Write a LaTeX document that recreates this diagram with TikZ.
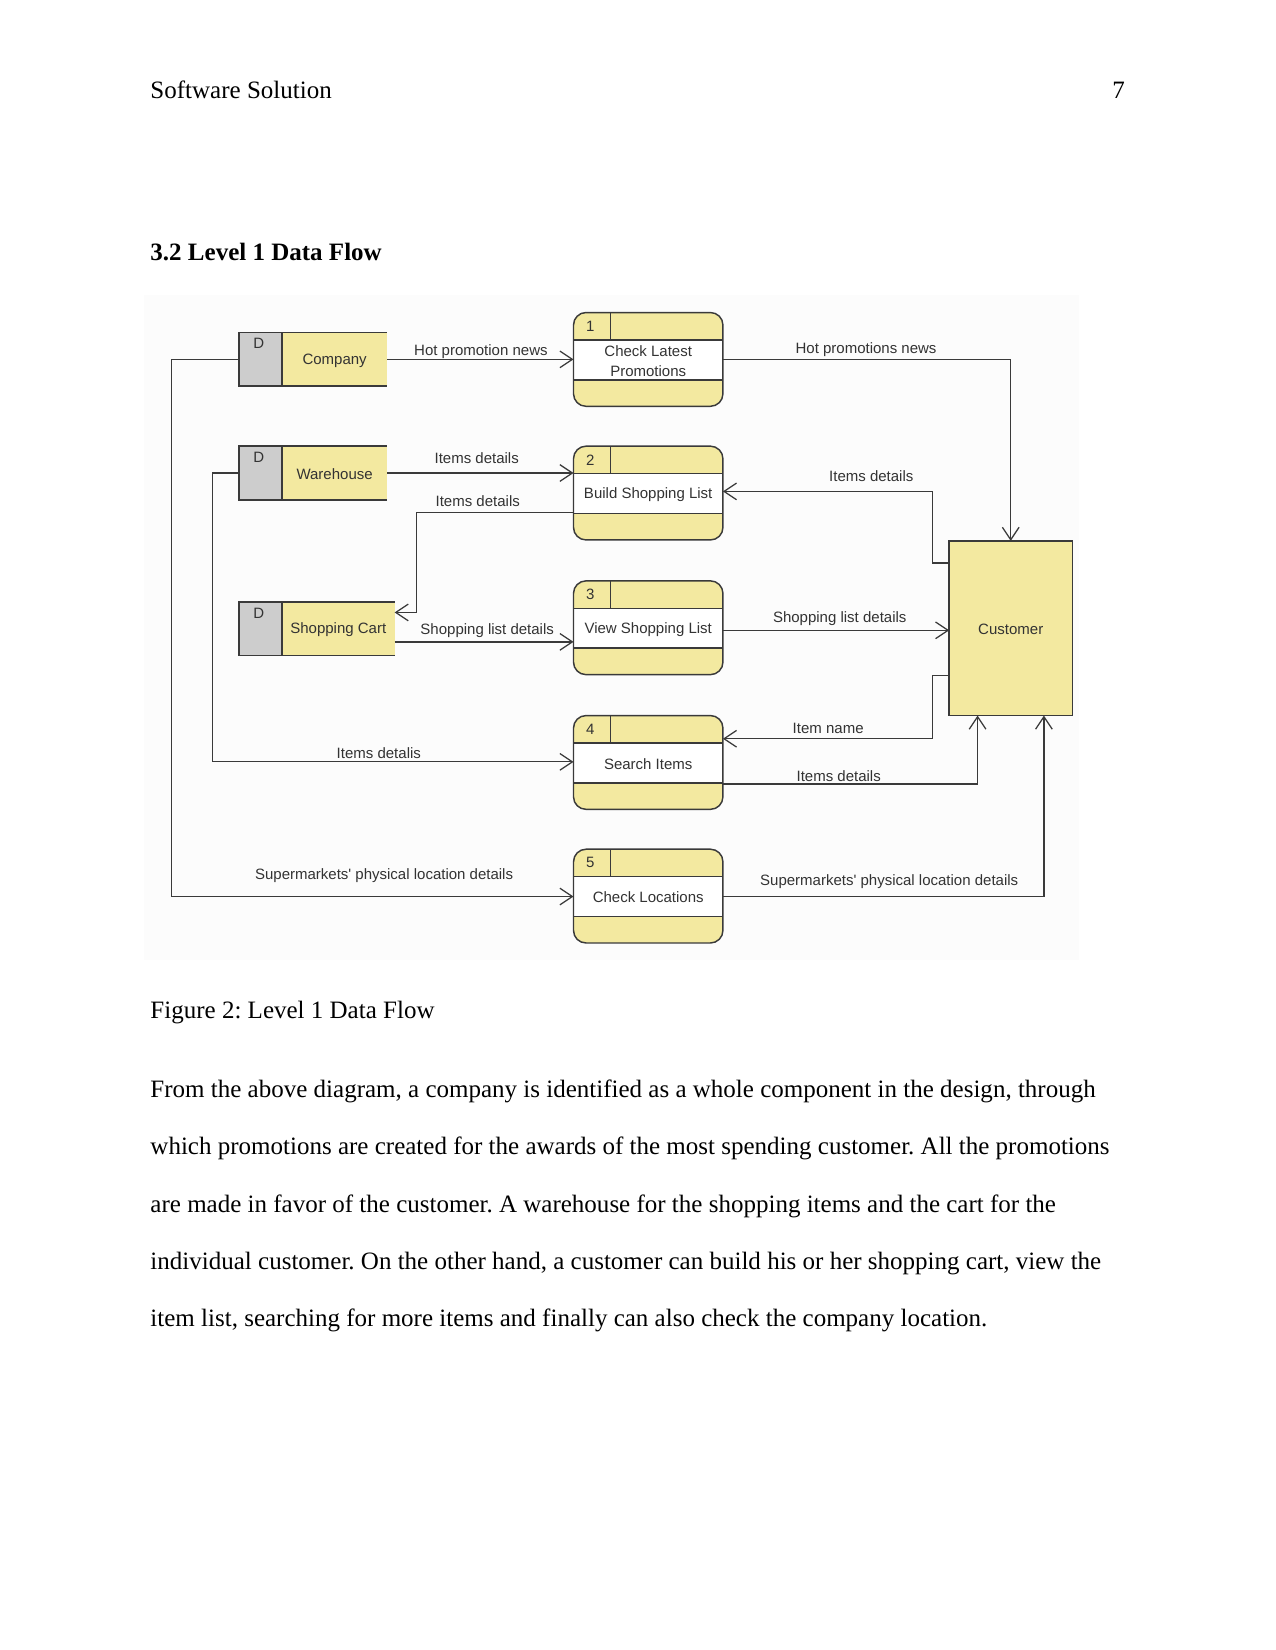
\documentclass[tikz,border=0pt]{standalone}
\usepackage{fontspec}
\setmainfont{Liberation Serif}
\newfontfamily\dfdfont{Liberation Sans}
\usetikzlibrary{arrows.meta,calc}
\definecolor{dfdyellow}{HTML}{F3E9A0}
\definecolor{dfdgray}{HTML}{CDCDCD}
\definecolor{dfdline}{HTML}{3A3A3A}
\definecolor{dfdtext}{HTML}{333333}
\definecolor{dfdbg}{HTML}{FCFCFC}

\newcommand\dfdproc[5]{% name, cx, top, number, text
  \node[fill=dfdyellow, rounded corners=6pt, minimum width=71.7pt, minimum height=45pt, anchor=north] (#1) at (#2,#3) {};
  \fill[white] (#2-71,#3+26) rectangle (#2+71,#3+64);
  \draw[border] (#2-71,#3+26) -- (#2+71,#3+26) (#2-71,#3+64) -- (#2+71,#3+64) (#2-36,#3) -- (#2-36,#3+26);
  \draw[border, rounded corners=6pt] (#1.north west) rectangle (#1.south east);
  \node[boxtxt] at (#2-55,#3+13) {#4};
  \node[boxtxt] at (#2,#3+46) {#5};
}
\newcommand\dfdstore[5]{% name, left, top, right, text
  \node[minimum width={(#4-#2)*0.50495pt}, minimum height={51*0.50495pt}] (#1) at ({(#2+#4)/2},#3+25.5) {};
  \fill[dfdyellow] (#2+41,#3) rectangle (#4,#3+51);
  \draw[border] (#2,#3) -- (#4,#3) (#2,#3+51) -- (#4,#3+51);
  \draw[border, fill=dfdgray] (#2,#3) rectangle (#2+41,#3+51);
  \node[boxtxt] at (#2+19,#3+10.5) {D};
  \node[boxtxt] at ({(#2+41+#4)/2},#3+26.5) {#5};
}

\begin{document}
\frenchspacing
\begin{tikzpicture}[x=0.50495pt,y=-0.50495pt,
  every node/.style={inner sep=0pt, outer sep=0pt},
  flow/.style={draw=dfdline, line width=0.6pt, -{Straight Barb[length=6pt,width=8pt,line width=0.6pt]}},
  border/.style={draw=dfdline, line width=0.7pt},
  lbl/.style={font=\dfdfont\fontsize{7.2}{8.6}\selectfont, text=dfdtext},
  boxtxt/.style={font=\dfdfont\fontsize{7.2}{9.6}\selectfont, text=dfdtext, align=center},
  body/.style={font=\fontsize{12}{14}\selectfont, anchor=base west},
]
\useasboundingbox (0,0) rectangle (1212,1568);
\fill[white] (0,0) rectangle (1212,1568);

% page text
\node[body] (hdr) at (143,94) {Software Solution};
\node[body, anchor=base east] (pg) at (1069,94) {7};
\node[body, font=\bfseries\fontsize{12}{14}\selectfont] (sec) at (143,248) {3.2 Level 1 Data Flow};

% diagram background
\fill[dfdbg] (137,280) rectangle (1025,912);

% processes
\dfdproc{p1}{616}{297}{1}{Check Latest\\Promotions}
\dfdproc{p2}{616}{424}{2}{Build Shopping List}
\dfdproc{p3}{616}{552}{3}{View Shopping List}
\dfdproc{p4}{616}{680}{4}{Search Items}
\dfdproc{p5}{616}{807}{5}{Check Locations}

% stores
\dfdstore{company}{227}{316}{368}{Company}
\dfdstore{warehouse}{227}{424}{368}{Warehouse}
\dfdstore{cart}{227}{572}{375}{Shopping Cart}

% external entity
\node[border, fill=dfdyellow, minimum width={117*0.50495pt}, minimum height={166*0.50495pt}, anchor=north west] (cust) at (902,514) {};
\node[lbl] (custtxt) at (960.5,598.5) {Customer};

% flows
\draw[flow] (company.east) -- (company.east -| p1.west);
\node[lbl] (l1) at (457,334.5) {Hot promotion news};

\draw[flow] (p1.east) -| (cust.north);
\node[lbl] (l2) at (823,332.5) {Hot promotions news};

\draw[flow] (warehouse.east) -- (warehouse.east -| p2.west);
\node[lbl] (l3) at (453,435.5) {Items details};

\draw[flow] (p2.west |- 0,487) -- (396,487) -- (396,582) -- (cart.east |- 0,582);
\node[lbl] (l4) at (454,476.5) {Items details};

\draw[flow] (cust.west |- 0,535) -- (886,535) -- (886,467) -- (p2.east |- 0,467);
\node[lbl] (l5) at (828,452.5) {Items details};

\draw[flow] (cart.east |- 0,610) -- (p3.west |- 0,610);
\node[lbl] (l6) at (463,599.5) {Shopping list details};

\draw[flow] (p3.east |- 0,599) -- (cust.west |- 0,599);
\node[lbl] (l7) at (798,587.5) {Shopping list details};

\draw[flow] (cust.west |- 0,642) -- (886,642) -- (886,702) -- (p4.east |- 0,702);
\node[lbl] (l8) at (787,692.5) {Item name};

\draw[flow] (p4.east |- 0,745) -| (cust.south -| 929,0);
\node[lbl] (l9) at (797,737.5) {Items details};

\draw[flow] (warehouse.west) -- (202,449.5) -- (202,724) -- (p4.west |- 0,724);
\node[lbl] (l10) at (360,715.5) {Items detalis};

\draw[flow] (company.west) -- (163,341.5) -- (163,852) -- (p5.west |- 0,852);
\node[lbl] (l11) at (365,832.5) {Supermarkets' physical location details};

\draw[flow] (p5.east |- 0,852) -| (cust.south -| 992,0);
\node[lbl] (l12) at (845,837.5) {Supermarkets' physical location details};

% caption and body
\node[body] (cap) at (143,968) {Figure 2: Level 1 Data Flow};
\node[body] (t1) at (143,1043) {From the above diagram, a company is identified as a whole component in the design, through};
\node[body] (t2) at (143,1097) {which promotions are created for the awards of the most spending customer. All the promotions};
\node[body] (t3) at (143,1152) {are made in favor of the customer. A warehouse for the shopping items and the cart for the};
\node[body] (t4) at (143,1206) {individual customer. On the other hand, a customer can build his or her shopping cart, view the};
\node[body] (t5) at (143,1261) {item list, searching for more items and finally can also check the company location.};
\end{tikzpicture}
\end{document}
